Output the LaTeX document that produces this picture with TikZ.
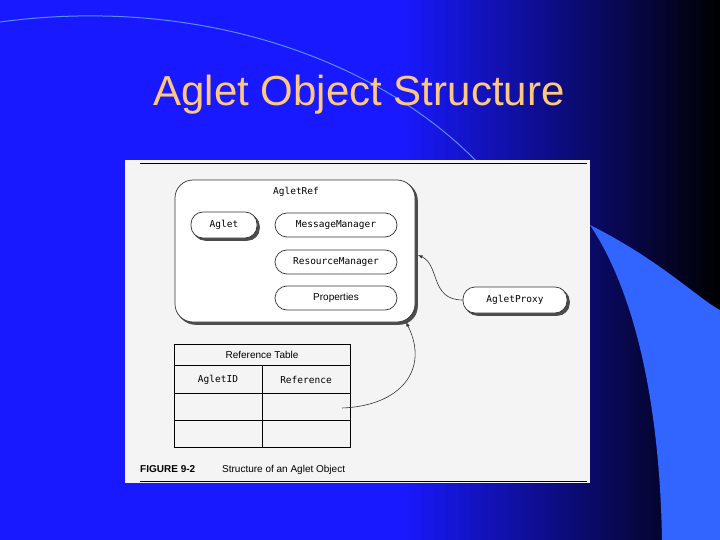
\documentclass[tikz,border=0pt]{standalone}
\usepackage{fontspec}
\setmainfont{Liberation Sans}
\newfontfamily\monof{DejaVu Sans Mono}
\usetikzlibrary{shadows}
\definecolor{bgA}{RGB}{25,25,255}
\definecolor{swoosh}{RGB}{50,100,255}
\definecolor{arcl}{RGB}{90,140,255}
\definecolor{titlec}{RGB}{255,200,130}
\definecolor{panelc}{RGB}{244,244,244}
\begin{document}
\begin{tikzpicture}[x=1pt,y=-1pt,
  pill/.style={draw=black!80,line width=0.7pt,rounded corners=12pt,fill=white,minimum height=24pt,inner sep=0pt,font=\monof\fontsize{9.5}{10}\selectfont},
  shpill/.style={pill,double copy shadow={shadow xshift=1.2pt,shadow yshift=-1.2pt,fill=black!70,draw=black!70}},
  lbl/.style={font=\monof\fontsize{9.5}{10}\selectfont,inner sep=0pt},
  arr/.style={-latex,line width=0.6pt,black!80}]
\useasboundingbox (0,0) rectangle (720,540);
\fill[bgA] (0,0) rectangle (720,540);
\shade[left color=bgA,right color=black] (400,0) rectangle (720,540);
\fill[swoosh] (590,225) .. controls (660,260) and (700,300) .. (720,310) -- (720,540) -- (662,540) .. controls (660,420) and (640,300) .. (590,225) -- cycle;
\draw[arcl,line width=1pt] (0,22) .. controls (200,-5) and (380,60) .. (480,165);
\node[text=titlec,font=\fontsize{42}{46}\selectfont,inner sep=0pt] (title) at (359,95) {Aglet Object Structure};
\node[fill=panelc,minimum width=465pt,minimum height=323pt,inner sep=0pt] (panel) at (357.5,321.5) {};
\coordinate (tl1) at (140,163); \coordinate (tl2) at (587,163);
\draw[line width=0.8pt] (tl1) -- (tl2);
\coordinate (bl1) at (140,481); \coordinate (bl2) at (587,481);
\draw[line width=0.8pt] (bl1) -- (bl2);
\node[draw=black!80,line width=0.7pt,rounded corners=18pt,fill=white,minimum width=240pt,minimum height=142pt,inner sep=0pt,double copy shadow={shadow xshift=1.2pt,shadow yshift=-1.2pt,fill=black!70,draw=black!70}] (ref) at (295,251) {};
\node[lbl] (reft) at (296,192) {AgletRef};
\node[shpill,minimum width=66pt,minimum height=26pt] (aglet) at (224,225) {Aglet};
\node[pill,minimum width=122pt] (mm) at (336,225) {MessageManager};
\node[pill,minimum width=122pt] (rm) at (336,262) {ResourceManager};
\node[pill,minimum width=122pt,font=\fontsize{10}{11}\selectfont] (pr) at (336,298) {Properties};
\node[shpill,minimum width=104pt,minimum height=26pt] (proxy) at (515,300) {AgletProxy};
\draw[arr] (proxy.west) .. controls (430,300) and (440,265) .. (418,255);
\draw[line width=0.7pt] (174,344) rectangle (350,447);
\draw[line width=0.7pt] (174,365) -- (350,365) (174,393) -- (350,393) (174,420) -- (350,420) (262,365) -- (262,447);
\node[font=\fontsize{10}{11}\selectfont,inner sep=0pt] (rt) at (262,355) {Reference Table};
\node[lbl] (aid) at (218,380) {AgletID};
\node[lbl] (rf) at (306,380) {Reference};
\coordinate (ts) at (342,408);
\coordinate (te) at (406,322);
\draw[arr] (ts) .. controls (400,406) and (430,370) .. (te);
\node[font=\bfseries\fontsize{10}{11}\selectfont,anchor=west,inner sep=0pt] (fig) at (140,469) {FIGURE 9-2};
\node[font=\fontsize{10}{11}\selectfont,anchor=west,inner sep=0pt] (cap) at (222,470) {Structure of an Aglet Object};
\end{tikzpicture}
\end{document}
